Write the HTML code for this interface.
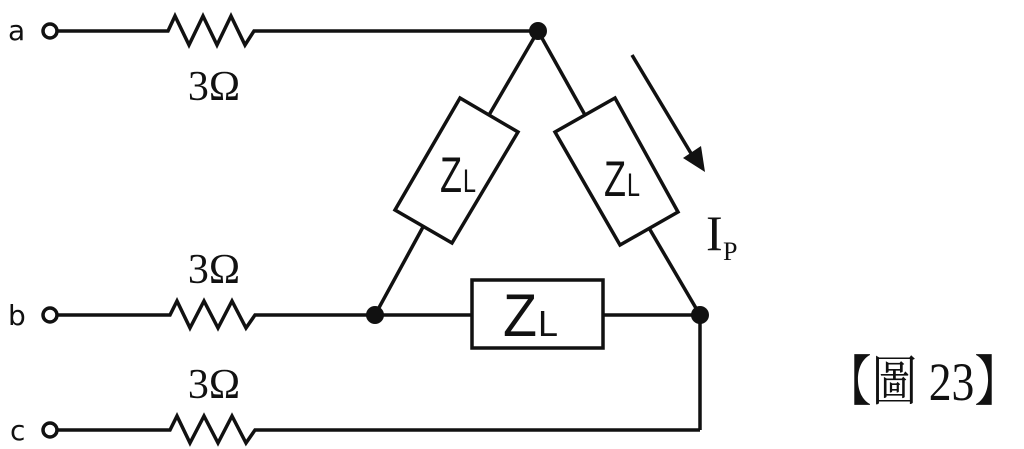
<!DOCTYPE html>
<html><head><meta charset="utf-8"><style>
html,body{margin:0;padding:0;background:#fff;width:1024px;height:449px;overflow:hidden}
</style></head><body>
<svg width="1024" height="449" viewBox="0 0 1024 449" xmlns="http://www.w3.org/2000/svg">
<g stroke="#111" stroke-width="3.5" fill="none" stroke-linejoin="miter">
<path d="M58,31 L168,31 L175,16 L189,45 L203,16 L217,45 L231,16 L245,45 L254,31 L538,31"/>
<path d="M58,315 L170,315 L177,301 L190,328 L204,301 L218,328 L232,301 L246,328 L255,315 L472,315"/>
<path d="M603,315 L700,315 L700,430"/>
<path d="M58,430 L170,430 L177,416 L190,443 L204,416 L218,443 L232,416 L246,443 L255,430 L700,430"/>
<path d="M538,31 L489,115"/>
<path d="M423,227 L375,315"/>
<path d="M538,31 L585,115"/>
<path d="M649,228 L700,315"/>
<polygon points="460,98 518,132 452,243 395,210" fill="#fff"/>
<polygon points="615,98 555,132 620,245 678,212" fill="#fff"/>
<rect x="472" y="280" width="131" height="68" fill="#fff"/>
<path d="M632,55 L692,155"/>
</g>
<polygon points="705,172 683,158 701,146" fill="#111"/>
<g fill="#fff" stroke="#111" stroke-width="3.5">
<circle cx="50" cy="31" r="7"/><circle cx="50" cy="315" r="7"/><circle cx="50" cy="430" r="7"/>
</g>
<g fill="#111">
<circle cx="538" cy="31" r="9"/><circle cx="375" cy="315" r="9"/><circle cx="700" cy="315" r="9"/>
</g>
<g font-family="'DejaVu Sans','Liberation Sans',sans-serif" font-size="28" fill="#111">
<text x="8" y="40">a</text><text x="8" y="325">b</text><text x="10" y="440">c</text>
</g>
<g font-family="'Liberation Serif',serif" font-size="42" fill="#111" text-anchor="middle">
<text x="214" y="100">3Ω</text><text x="214" y="283">3Ω</text><text x="214" y="398">3Ω</text>
</g>
<g font-family="'Liberation Sans',sans-serif" fill="#111">
<text x="440" y="192" font-size="50" textLength="22" lengthAdjust="spacingAndGlyphs">Z</text>
<text x="463" y="192" font-size="32" textLength="13" lengthAdjust="spacingAndGlyphs">L</text>
<text x="604" y="196" font-size="50" textLength="22" lengthAdjust="spacingAndGlyphs">Z</text>
<text x="627" y="196" font-size="32" textLength="13" lengthAdjust="spacingAndGlyphs">L</text>
<text x="503" y="336" font-size="60" textLength="34" lengthAdjust="spacingAndGlyphs">Z</text>
<text x="538" y="336" font-size="36" textLength="20" lengthAdjust="spacingAndGlyphs">L</text>
</g>
<g font-family="'Liberation Serif',serif" fill="#111">
<text x="706" y="250" font-size="50">I</text>
<text x="723" y="260" font-size="26">P</text>
</g>
<text x="826" y="400" font-family="'Liberation Serif','Noto Serif CJK SC',serif" font-size="54" fill="#111" textLength="194" lengthAdjust="spacingAndGlyphs">【圖 23】</text>
</svg>
</body></html>
